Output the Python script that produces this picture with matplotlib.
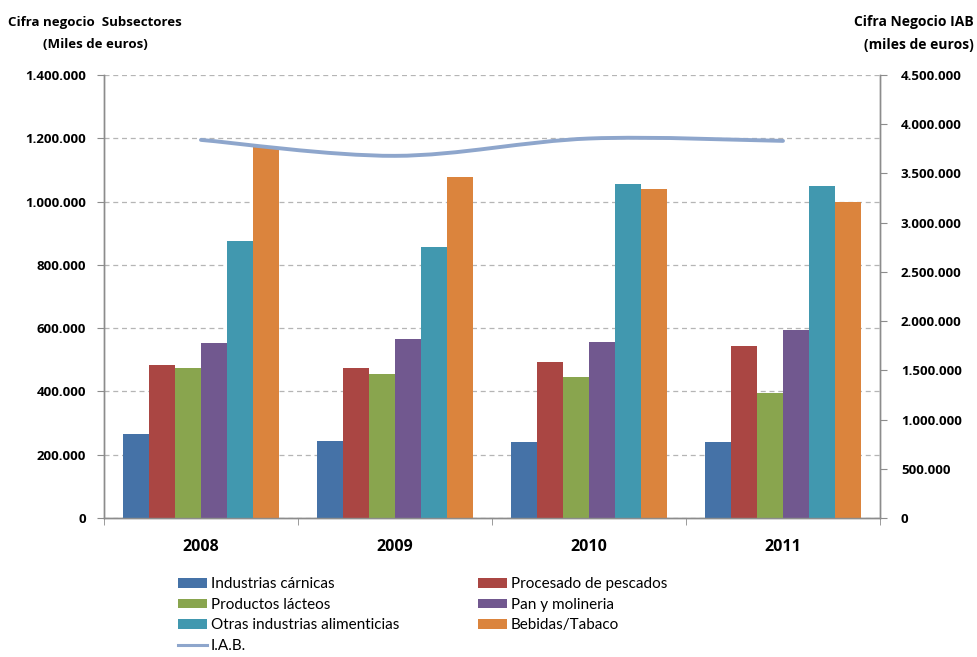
import matplotlib
matplotlib.use("Agg")
import matplotlib.pyplot as plt
from matplotlib.path import Path
from matplotlib.patches import PathPatch
from matplotlib.lines import Line2D
import numpy as np

years = ["2008", "2009", "2010", "2011"]
series_names = ["Industrias cárnicas", "Procesado de pescados", "Productos lácteos",
                "Pan y molineria", "Otras industrias alimenticias", "Bebidas/Tabaco"]
industrias_carnicas = [264000, 243000, 240000, 240000]
procesado_pescados = [485000, 475000, 492000, 542000]
productos_lacteos = [475000, 454000, 446000, 395000]
pan_molineria = [553000, 565000, 557000, 595000]
otras_industrias = [876000, 858000, 1056000, 1049000]
bebidas_tabaco = [1173000, 1078000, 1040000, 998000]
iab = [3841000, 3679000, 3855000, 3831000]
left_ticks = [0, 200000, 400000, 600000, 800000, 1000000, 1200000, 1400000]
right_ticks = [0, 500000, 1000000, 1500000, 2000000, 2500000, 3000000, 3500000, 4000000, 4500000]

colors = ["#4572A7", "#AA4643", "#89A54E", "#71588F", "#4198AF", "#DB843D"]
line_color = "#8EA6CC"

def fmt(v):
    return "{:,}".format(int(v)).replace(",", ".")

plt.rcParams['font.family'] = ['Open Sans', 'DejaVu Sans']
fig = plt.figure(figsize=(9.77, 6.57), dpi=100)
ax = fig.add_axes([0.1064, 0.2116, 0.7943, 0.6742])
ax2 = ax.twinx()

data = [industrias_carnicas, procesado_pescados, productos_lacteos,
        pan_molineria, otras_industrias, bebidas_tabaco]
x = np.arange(len(years))
bw = 0.134
handles = []
for i, (vals, c, name) in enumerate(zip(data, colors, series_names)):
    b = ax.bar(x + (i - 2.5) * bw, vals, width=bw, color=c, label=name, zorder=3)
    handles.append(b)

ax.set_xlim(-0.5, len(years) - 0.5)
ax.set_ylim(0, 1400000)
ax.set_yticks(left_ticks)
ax.set_yticklabels([fmt(v) for v in left_ticks], fontweight='bold', fontsize=9.5)
ax.yaxis.grid(True, linestyle=(0, (4, 3)), color="#B5B5B5", linewidth=0.9, zorder=0)
ax.set_axisbelow(True)
ax.set_xticks(x)
ax.set_xticklabels(years, fontweight='bold', fontsize=11.5)
ax.tick_params(axis='x', length=0, pad=15)
ax.set_xticks(np.arange(len(years) + 1) - 0.5, minor=True)
ax.tick_params(axis='x', which='minor', length=5, color="#8C8C8C", direction='out')
ax.tick_params(axis='y', length=5, color="#8C8C8C", pad=8)

ax2.set_ylim(0, 4500000)
ax2.set_yticks(right_ticks)
ax2.set_yticklabels([fmt(v) for v in right_ticks], fontweight='bold', fontsize=9.5)
ax2.tick_params(axis='y', length=5, color="#8C8C8C", pad=10)

for a in (ax, ax2):
    a.spines['top'].set_visible(False)
    for s in ('left', 'right', 'bottom'):
        a.spines[s].set_color("#8C8C8C")
        a.spines[s].set_linewidth(1.0)

# smooth IAB line (Catmull-Rom -> Bezier through the data points)
px = list(x.astype(float))
py = list(iab)
verts = [(px[0], py[0])]
codes = [Path.MOVETO]
n = len(px)
for k in range(n - 1):
    p0 = (px[k - 1], py[k - 1]) if k > 0 else (px[k], py[k])
    p1 = (px[k], py[k])
    p2 = (px[k + 1], py[k + 1])
    p3 = (px[k + 2], py[k + 2]) if k + 2 < n else p2
    c1 = (p1[0] + (p2[0] - p0[0]) / 6.0, p1[1] + (p2[1] - p0[1]) / 6.0)
    c2 = (p2[0] - (p3[0] - p1[0]) / 6.0, p2[1] - (p3[1] - p1[1]) / 6.0)
    verts += [c1, c2, p2]
    codes += [Path.CURVE4] * 3
ax2.add_patch(PathPatch(Path(verts, codes), facecolor='none', edgecolor=line_color,
                        linewidth=2.8, capstyle='round', zorder=4))
iab_handle = Line2D([], [], color=line_color, linewidth=2.2)

fig.text(0.008, 0.966, "Cifra negocio  Subsectores", fontweight='bold', fontsize=9.5,
         ha='left', va='center')
fig.text(0.098, 0.932, "(Miles de euros)", fontweight='bold', fontsize=9.5,
         ha='center', va='center')
fig.text(0.997, 0.966, "Cifra Negocio IAB", fontweight='bold', fontsize=10,
         ha='right', va='center')
fig.text(0.997, 0.932, "(miles de euros)", fontweight='bold', fontsize=10,
         ha='right', va='center')

leg_handles = [handles[0], handles[2], handles[4], iab_handle, handles[1], handles[3], handles[5]]
leg_labels = [series_names[0], series_names[2], series_names[4], "I.A.B.",
              series_names[1], series_names[3], series_names[5]]
fig.legend(leg_handles, leg_labels, ncol=2, loc='upper left', bbox_to_anchor=(0.176, 0.131),
           frameon=False, prop={'family': 'Lato', 'size': 11}, handlelength=1.9,
           handleheight=0.6, handletextpad=0.25, columnspacing=5.15, labelspacing=0.44,
           borderaxespad=0)

fig.savefig("out.png", dpi=100)
